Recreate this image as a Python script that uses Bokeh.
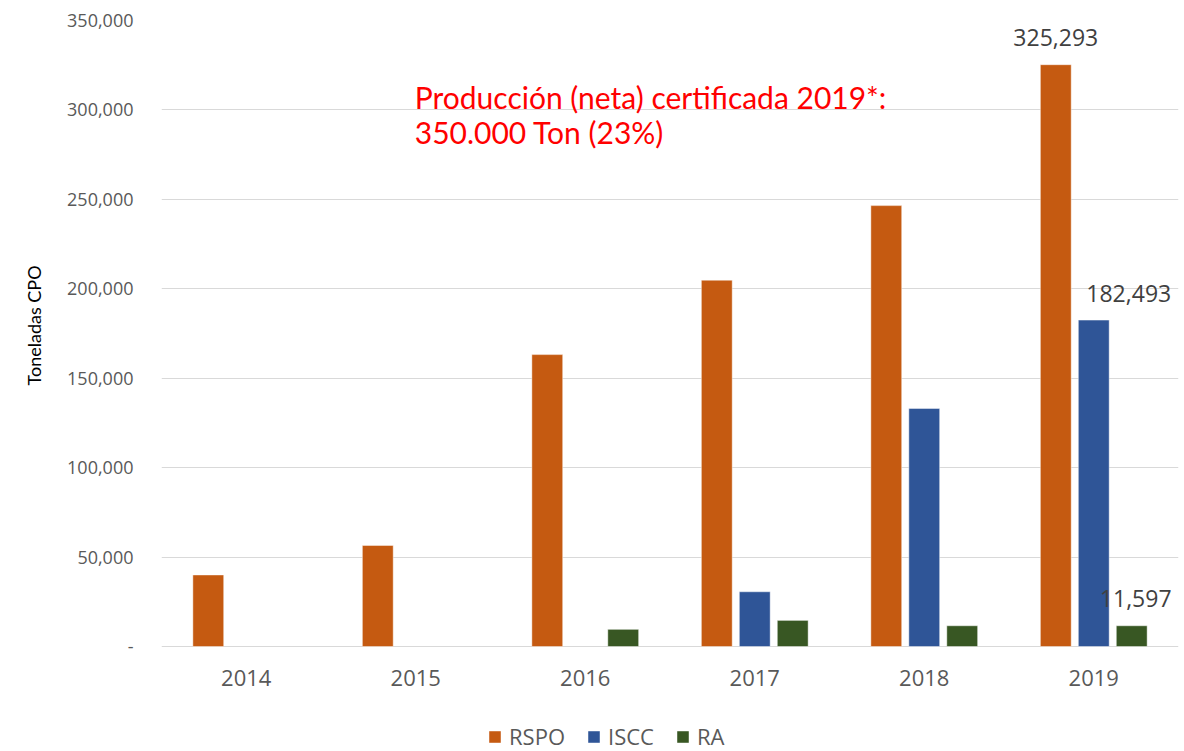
from bokeh.plotting import figure
from bokeh.models import (ColumnDataSource, Range1d, FixedTicker, Legend, LegendItem, Title)
from bokeh.transform import dodge
from bokeh.core.properties import value
from bokeh.embed import file_html
from bokeh.resources import INLINE

years = ["2014", "2015", "2016", "2017", "2018", "2019"]
series_names = ["RSPO", "ISCC", "RA"]
rspo = [40000, 56500, 163200, 204800, 246500, 325293]
iscc = [0, 0, 0, 30600, 133100, 182493]
ra = [0, 0, 9600, 14600, 11600, 11597]
y_ticks = [0, 50000, 100000, 150000, 200000, 250000, 300000, 350000]
annotation_lines = ["Producción (neta) certificada 2019*:", "350.000 Ton (23%)"]
y_title = "Toneladas CPO"
labelled_year = "2019"

colors = ["#C55A11", "#2F5597", "#385723"]
offsets = [-0.224, 0.0, 0.224]
bar_w = 0.182

Y_MAX = 350000
# frame extends below zero to hold the year labels and legend
y_min = -Y_MAX * 105 / 626

p = figure(x_range=years, y_range=Range1d(y_min, Y_MAX), width=1184, height=751,
           output_backend="svg", toolbar_location=None,
           min_border_left=159, min_border_right=6, min_border_top=20,
           min_border_bottom=0)
p.outline_line_color = None
p.background_fill_color = "white"
p.border_fill_color = "white"

items = []
all_vals = [rspo, iscc, ra]
for name, vals, col, off in zip(series_names, all_vals, colors, offsets):
    xs = [y for y, v in zip(years, vals) if v > 0]
    vs = [v for v in vals if v > 0]
    src = ColumnDataSource(dict(year=xs, val=vs))
    r = p.vbar(x=dodge("year", off, range=p.x_range), top="val", width=bar_w,
               source=src, fill_color=col, line_color="white", line_alpha=0.45,
               line_width=1)
    items.append(LegendItem(label=name, renderers=[r]))

# data labels for 2019
lab_x_off = [0, 35, 4]
for name, vals, off, xo in zip(series_names, all_vals, offsets, lab_x_off):
    i = years.index(labelled_year)
    src = ColumnDataSource(dict(year=[labelled_year], val=[vals[i]],
                                txt=["{:,}".format(vals[i])]))
    p.text(x=dodge("year", off, range=p.x_range), y="val", text="txt", source=src,
           text_align="center", text_baseline="middle", x_offset=xo, y_offset=-27,
           text_font=value("Open Sans"), text_font_size="23px", text_color="#404040")

# category (year) labels under the baseline
yr_src = ColumnDataSource(dict(year=years, base=[0] * len(years)))
p.text(x="year", y="base", text="year", source=yr_src, text_align="center",
       text_baseline="middle", y_offset=31, text_font=value("Open Sans"),
       text_font_size="22px", text_color="#595959")

# red annotation
ann_src = ColumnDataSource(dict(year=["2015", "2015"], yy=[307500, 287400],
                                txt=annotation_lines))
p.text(x="year", y="yy", text="txt", source=ann_src, x_offset=-1,
       text_align="left", text_baseline="alphabetic",
       text_font=value("Lato"), text_font_size="30px", text_color="#FF0000")

p.xaxis.visible = False
p.xgrid.grid_line_color = None
p.ygrid.grid_line_color = "#D9D9D9"
p.ygrid.grid_line_width = 1
p.ygrid.ticker = FixedTicker(ticks=y_ticks)
p.yaxis.ticker = FixedTicker(ticks=y_ticks)
p.yaxis.major_label_overrides = {t: ("-" if t == 0 else "{:,}".format(t)) for t in y_ticks}
p.yaxis.axis_line_color = None
p.yaxis.major_tick_line_color = None
p.yaxis.minor_tick_line_color = None
p.yaxis.major_tick_out = 0
p.yaxis.major_tick_in = 0
p.yaxis.major_label_standoff = 28
p.yaxis.major_label_text_font = "Open Sans"
p.yaxis.major_label_text_font_size = "18px"
p.yaxis.major_label_text_color = "#595959"

# y-axis title (kept next to the 0..350,000 part of the axis)
ttl = Title(text=y_title, align="left", vertical_align="bottom", offset=366,
            standoff=40, text_font="Lato", text_font_size="18px",
            text_font_style="normal", text_color="#000000")
p.add_layout(ttl, "left")

legend = Legend(items=items, orientation="horizontal", location=(326, 0),
                glyph_width=15, glyph_height=15, label_standoff=7, spacing=21,
                padding=0, margin=0, border_line_color=None,
                background_fill_alpha=0,
                label_text_font="Open Sans", label_text_font_size="22px",
                label_text_color="#595959")
p.add_layout(legend, "center")

open("out.html", "w").write(file_html(p, INLINE))
